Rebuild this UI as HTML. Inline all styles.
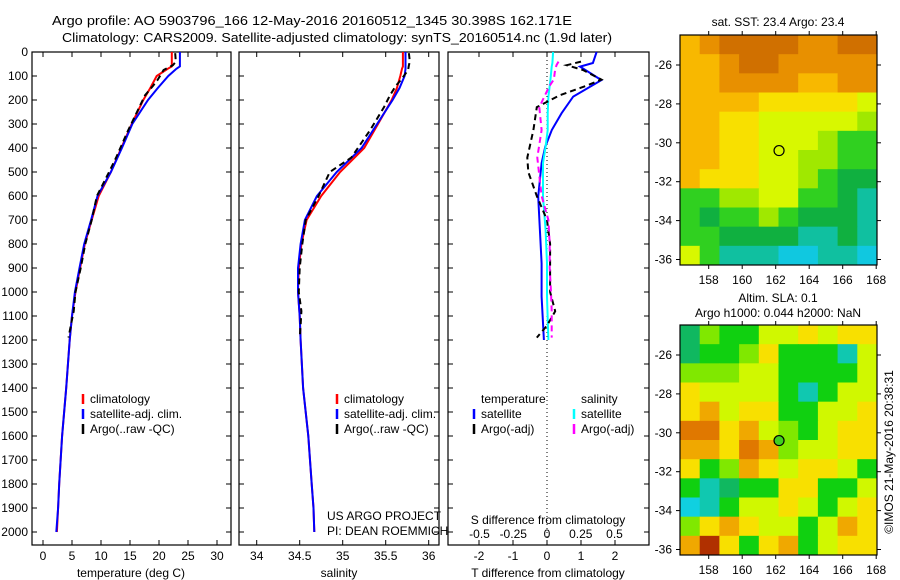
<!DOCTYPE html>
<html><head><meta charset="utf-8"><style>
html,body{margin:0;padding:0;background:#fff}
svg{display:block;font-family:"Liberation Sans",sans-serif;font-size:12px}
</style></head><body>
<svg id="fig" width="900" height="580" viewBox="0 0 900 580" xmlns="http://www.w3.org/2000/svg">
<rect width="900" height="580" fill="#fff"/>
<text x="52" y="25" font-size="13" textLength="520" lengthAdjust="spacingAndGlyphs">Argo profile: AO 5903796_166 12-May-2016 20160512_1345 30.398S 162.171E</text>
<text x="62" y="42" font-size="13" textLength="550" lengthAdjust="spacingAndGlyphs">Climatology: CARS2009. Satellite-adjusted climatology: synTS_20160514.nc (1.9d later)</text>
<g id="g"></g>
</svg>
<script>
// ---- data ----
const depthTicks = [0,100,200,300,400,500,600,700,800,900,1000,1100,1200,1300,1400,1500,1600,1700,1800,1900,2000];
const tTicks = [0,5,10,15,20,25,30];
const sTicks = [34,34.5,35,35.5,36];
const dTTicks = [-2,-1,0,1,2];
const dSTickLabels = ['-0.5','-0.25','0','0.25','0.5'];
const dSTicks = [-0.5,-0.25,0,0.25,0.5];

const climDepth = [0,60,70,100,150,200,300,400,500,600,700,800,900,1000,1100,1200,1400,1600,1800,1900,2000];
const climTemp  = [22.2,22.2,21.5,19.6,18.5,17.3,15.3,13.5,11.7,9.6,8.4,7.2,6.4,5.6,5.0,4.6,4.0,3.3,2.8,2.6,2.4];
const satTemp   = [23.6,23.6,23.0,21.6,19.8,18.1,15.4,13.6,11.7,9.4,8.3,7.1,6.3,5.5,5.0,4.6,4.0,3.3,2.8,2.6,2.3];
const climSal   = [35.70,35.70,35.69,35.67,35.63,35.57,35.41,35.25,34.97,34.75,34.58,34.52,34.49,34.48,34.50,34.51,34.54,34.60,34.64,34.66,34.67];
const satSal    = [35.73,35.73,35.73,35.72,35.66,35.58,35.40,35.22,34.93,34.70,34.56,34.51,34.48,34.48,34.50,34.51,34.54,34.60,34.64,34.66,34.67];

const argoDepth = [5,40,55,75,115,140,180,230,325,440,500,600,700,800,900,1000,1080,1140,1190];
const argoTemp  = [22.8,22.9,22.4,20.8,19.8,19.0,17.6,16.6,14.7,12.6,11.4,9.3,8.4,7.3,6.5,5.6,5.3,4.8,4.4];
const argoSal   = [35.77,35.78,35.77,35.76,35.68,35.62,35.55,35.48,35.32,35.10,34.85,34.72,34.57,34.53,34.50,34.49,34.52,34.51,34.50];

const dDepth  = [0,46,61,117,186,255,325,394,463,603,742,881,1019,1200];
const satDT   = [1.46,1.35,0.97,1.6,0.77,0.43,0.14,-0.05,-0.16,-0.26,-0.21,-0.16,-0.16,-0.09];
const satDS   = [0.045,0.04,0.035,0.025,0.01,0.005,0.005,-0.01,-0.03,-0.03,-0.01,0.0,0.0,0.01];
const argoDDepth = [40,55,75,115,140,180,230,325,440,500,600,700,800,900,1000,1080,1140,1190];
const argoDT  = [1.0,0.58,1.06,1.6,1.17,0.38,-0.30,-0.40,-0.58,-0.55,-0.30,0.0,0.09,0.09,0.09,0.24,0.0,-0.30];
const argoDS  = [0.085,0.07,0.06,0.05,0.02,-0.015,-0.057,-0.04,-0.072,-0.06,-0.04,0.01,0.02,0.02,0.03,0.035,0.035,0.035];

const lonTicks = [158,160,162,164,166,168];
const latTicks = [-26,-28,-30,-32,-34,-36];
const sstPalette = ['#d07000','#e89000','#f8b800','#f8e000','#d8f800','#a0e800','#30d020','#10b040','#10c0a0','#10c8e0'];
const sstGrid = ['2100001100','2210011111','2211112211','2222333334','2233444445','2233444566','2233445566','2333445677','6655446678','6766567778','6677778878','4688899889'];
const slaPalette = ['#b03000','#e07800','#f0a800','#f8e000','#d0f800','#80e800','#10d010','#10b860','#10c8b0','#10d0e0'];
const slaGrid = ['7566443433','7665366684','5554466664','3444468644','3243366443','1132456433','2231254433','3652343346','6876633664','9864434643','5323446423','2036326433'];
const argoLon = [162.2];
const argoLat = [-30.4];

// ---- helpers ----
const NS='http://www.w3.org/2000/svg';
const G=document.getElementById('g');
function mk(tag,attrs,parent){const e=document.createElementNS(NS,tag);for(const k in attrs)e.setAttribute(k,attrs[k]);(parent||G).appendChild(e);return e;}
const yD = d => 52 + d*0.24;
const TOP=52, BOT=545;

function panel(x0,x1,name){
  const b=mk('rect',{x:x0,y:TOP,width:x1-x0,height:BOT-TOP,fill:'none',stroke:'#000','stroke-width':1.2});
  
  
  depthTicks.forEach(d=>{
    const t1=mk('line',{x1:x0,x2:x0+5,y1:yD(d),y2:yD(d),stroke:'#000'});
    
    
    const t2=mk('line',{x1:x1-5,x2:x1,y1:yD(d),y2:yD(d),stroke:'#000'});
    
    
  });
}
function xticks(xs,fx,name,labels,ly){
  xs.forEach((v,i)=>{
    const x=fx(v);
    const a=mk('line',{x1:x,x2:x,y1:TOP,y2:TOP+5,stroke:'#000'});
    
    
    const b=mk('line',{x1:x,x2:x,y1:BOT-5,y2:BOT,stroke:'#000'});
    
    
    if(labels){
      const t=mk('text',{x:x,y:ly,'text-anchor':'middle'});
      t.textContent=labels[i];
      
      
    }
  });
}
function line(xs,ds,fx,color,name,dash){
  const pts=xs.map((v,i)=>fx(v).toFixed(1)+','+yD(ds[i]).toFixed(1)).join(' ');
  const p=mk('polyline',{points:pts,fill:'none',stroke:color,'stroke-width':2});
  if(dash)p.setAttribute('stroke-dasharray',dash);
  
  
}
function txt(x,y,s,name,extra){
  const t=mk('text',Object.assign({x:x,y:y},extra||{}));
  t.textContent=s;
  
  
  return t;
}
function legMark(x,y,c,name){
  const l=mk('line',{x1:x,x2:x,y1:y-10,y2:y,stroke:c,'stroke-width':2.5});
  
  
}

// ---- panel 1: temperature ----
const fT = v => 43 + v*5.8;
panel(32,231,'temperature-panel');
xticks(tTicks,fT,'temperature',tTicks.map(String),560);
depthTicks.forEach(d=>txt(28,yD(d)+4,String(d),'depth-tick-label',{'text-anchor':'end'}));
txt(131,577,'temperature (deg C)','temperature-axis-title',{'text-anchor':'middle'});
line(climTemp,climDepth,fT,'#f00','temperature-climatology-line');
line(satTemp,climDepth,fT,'#00f','temperature-satellite-line');
line(argoTemp,argoDepth,fT,'#000','temperature-argo-line','6,4');
[['#f00','climatology'],['#00f','satellite-adj. clim.'],['#000','Argo(..raw -QC)']].forEach((e,i)=>{
  legMark(83,404+i*15,e[0],'temperature-legend-marker');
  txt(90,403+i*15,e[1],'temperature-legend-entry');
});

// ---- panel 2: salinity ----
const fS = v => 256.7 + (v-34)*86;
panel(239,439,'salinity-panel');
xticks(sTicks,fS,'salinity',sTicks.map(String),560);
txt(339,577,'salinity','salinity-axis-title',{'text-anchor':'middle'});
line(climSal,climDepth,fS,'#f00','salinity-climatology-line');
line(satSal,climDepth,fS,'#00f','salinity-satellite-line');
line(argoSal,argoDepth,fS,'#000','salinity-argo-line','6,4');
[['#f00','climatology'],['#00f','satellite-adj. clim.'],['#000','Argo(..raw -QC)']].forEach((e,i)=>{
  legMark(337,404+i*15,e[0],'salinity-legend-marker');
  txt(344,403+i*15,e[1],'salinity-legend-entry');
});
txt(327,520,'US ARGO PROJECT','project-label');
txt(327,535,'PI: DEAN ROEMMICH','pi-label');

// ---- panel 3: differences ----
const fDT = v => 547 + v*34;
const fDS = v => 547 + v*135;
panel(448,649,'difference-panel');
xticks(dTTicks,fDT,'t-difference',dTTicks.map(String),560);
dSTicks.forEach((v,i)=>txt(fDS(v),538,dSTickLabels[i],'s-difference-tick-label',{'text-anchor':'middle'}));
txt(548,524,'S difference from climatology','s-difference-axis-title',{'text-anchor':'middle'});
txt(548,577,'T difference from climatology','t-difference-axis-title',{'text-anchor':'middle'});
const z=mk('line',{x1:fDT(0),x2:fDT(0),y1:TOP,y2:BOT,stroke:'#000','stroke-dasharray':'1,3'});


line(satDT,dDepth,fDT,'#00f','t-diff-satellite-line');
line(satDS,dDepth,fDS,'#0ff','s-diff-satellite-line');
line(argoDT,argoDDepth,fDT,'#000','t-diff-argo-line','6,4');
line(argoDS,argoDDepth,fDS,'#f0f','s-diff-argo-line','6,4');
txt(481,403,'temperature','diff-legend-temperature-header');
txt(581,403,'salinity','diff-legend-salinity-header');
legMark(474,419,'#00f','diff-legend-marker');
txt(481,418,'satellite','diff-legend-t-satellite');
legMark(474,434,'#000','diff-legend-marker');
txt(481,433,'Argo(-adj)','diff-legend-t-argo');
legMark(574,419,'#0ff','diff-legend-marker');
txt(581,418,'satellite','diff-legend-s-satellite');
legMark(574,434,'#f0f','diff-legend-marker');
txt(581,433,'Argo(-adj)','diff-legend-s-argo');

// ---- maps ----
function map(y0,grid,pal,name,circleFill){
  const x0=680,x1=877,y1=y0+230;
  const fLon=v=>708.7+(v-158)*16.75;
  const fLat=v=>y0+30+(-26-v)*19.45;
  const rows=grid.length, cols=grid[0].length;
  const cw=(x1-x0)/cols, ch=(y1-y0)/rows;
  grid.forEach((row,r)=>{
    for(let c=0;c<cols;c++){
      const cell=mk('rect',{x:(x0+c*cw).toFixed(2),y:(y0+r*ch).toFixed(2),width:(cw+0.5).toFixed(2),height:(ch+0.5).toFixed(2),fill:pal[+row[c]]});
      
      
    }
  });
  const f=mk('rect',{x:x0,y:y0,width:x1-x0,height:y1-y0,fill:'none',stroke:'#000','stroke-width':1.2});
  
  
  lonTicks.forEach(v=>{
    const t=mk('line',{x1:fLon(v),x2:fLon(v),y1:y0-4,y2:y0,stroke:'#000'});
    
    
    const t2=mk('line',{x1:fLon(v),x2:fLon(v),y1:y1,y2:y1+4,stroke:'#000'});
    
    
    txt(fLon(v),y1+19,String(v),name+'-lon-label',{'text-anchor':'middle'});
  });
  latTicks.forEach(v=>{
    const t=mk('line',{x1:x0-4,x2:x0,y1:fLat(v),y2:fLat(v),stroke:'#000'});
    
    
    const t2=mk('line',{x1:x1,x2:x1+4,y1:fLat(v),y2:fLat(v),stroke:'#000'});
    
    
    txt(672,fLat(v)+4,String(v),name+'-lat-label',{'text-anchor':'end'});
  });
  argoLon.forEach((lo,i)=>{
    const c=mk('circle',{cx:fLon(lo),cy:fLat(argoLat[i]),r:5,fill:circleFill,stroke:'#000','stroke-width':1.2});
    
    
  });
}
map(35,sstGrid,sstPalette,'sst-map','none');
txt(778,26,'sat. SST: 23.4 Argo: 23.4','sst-map-title',{'text-anchor':'middle'});
map(325,slaGrid,slaPalette,'sla-map','#40d020');
txt(778,302,'Altim. SLA: 0.1','sla-map-title',{'text-anchor':'middle'});
txt(778,317,'Argo h1000: 0.044 h2000: NaN','sla-map-subtitle',{'text-anchor':'middle'});
txt(0,0,'©IMOS 21-May-2016 20:38:31','imos-timestamp',{transform:'translate(893,452) rotate(-90)','text-anchor':'middle'});
</script>
</body></html>
